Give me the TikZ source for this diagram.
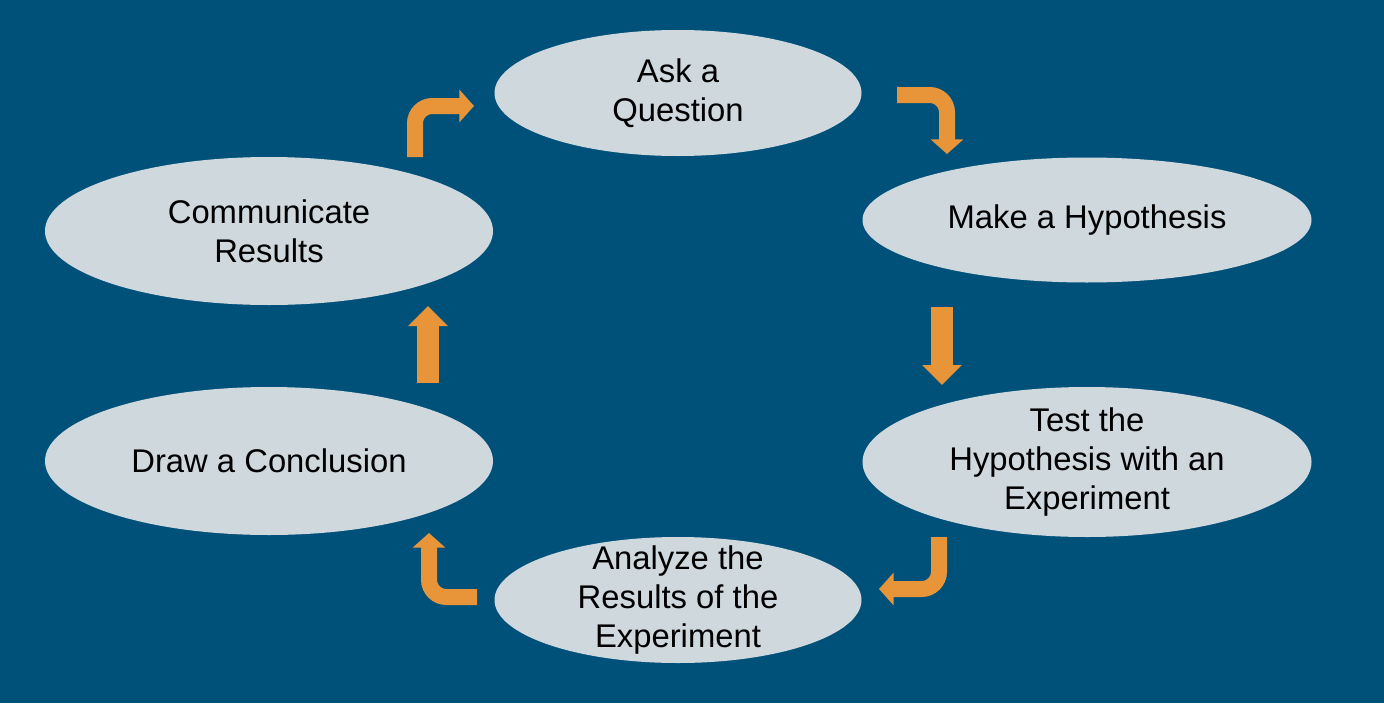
\documentclass[tikz,border=0pt]{standalone}
\usepackage{fontspec}
\setmainfont{Liberation Sans}
\usepackage{tikz}
\usetikzlibrary{shapes.geometric,arrows.meta}

\definecolor{slidebg}{RGB}{0,81,122}
\definecolor{bubblefill}{RGB}{207,216,221}
\definecolor{arroworange}{RGB}{232,149,58}

\begin{document}
\begin{tikzpicture}[x=0.75pt,y=0.75pt,yscale=-1,xscale=1,
  bubble/.style={ellipse,fill=bubblefill,inner xsep=0pt,inner ysep=-14pt,align=center,
    font=\fontsize{24.6}{29.5}\selectfont,text=black},
  bentarrow/.style={draw=arroworange,line width=12pt,rounded corners=13pt,
    -{Triangle[width=24pt,length=11pt]}},
  straightarrow/.style={draw=arroworange,line width=16pt,
    -{Triangle[width=29pt,length=15pt]}}]
%set diagram to the slide size
\fill[slidebg] (0,0) rectangle (1384,703);

%Shape: Ellipse
\node[bubble,minimum width=275.25pt,minimum height=94.5pt] (ask) at (678,93) {Ask a\\Question};
%Shape: Ellipse
\node[bubble,minimum width=336.75pt,minimum height=93.75pt] (make) at (1087,220) {Make a Hypothesis};
%Shape: Ellipse
\node[bubble,minimum width=336.75pt,minimum height=112.5pt] (test) at (1087,462) {Test the\\Hypothesis with an\\Experiment};
%Shape: Ellipse
\node[bubble,minimum width=275.25pt,minimum height=94.5pt] (analyze) at (678,600) {Analyze the\\Results of the\\Experiment};
%Shape: Ellipse
\node[bubble,minimum width=336pt,minimum height=111pt] (draw) at (269,461) {Draw a Conclusion};
%Shape: Ellipse
\node[bubble,minimum width=336pt,minimum height=111pt] (comm) at (269,231) {Communicate\\Results};

%Arrow ends
\coordinate (commOut) at (415,157);
\coordinate (askIn) at (474,106);
\coordinate (askOut) at (897,95);
\coordinate (makeIn) at (947,154);
\coordinate (makeOut) at (942,307);
\coordinate (testIn) at (942,385);
\coordinate (testOut) at (939,537);
\coordinate (analyzeIn) at (879,589);
\coordinate (analyzeOut) at (477,597);
\coordinate (drawIn) at (429,533);
\coordinate (drawOut) at (428,383);
\coordinate (commIn) at (428,306);

%Arrows
\draw[bentarrow] (commOut) |- (askIn);
\draw[bentarrow] (askOut) -| (makeIn);
\draw[straightarrow] (makeOut) -- (testIn);
\draw[bentarrow] (testOut) |- (analyzeIn);
\draw[bentarrow] (analyzeOut) -| (drawIn);
\draw[straightarrow] (drawOut) -- (commIn);

\end{tikzpicture}
\end{document}
